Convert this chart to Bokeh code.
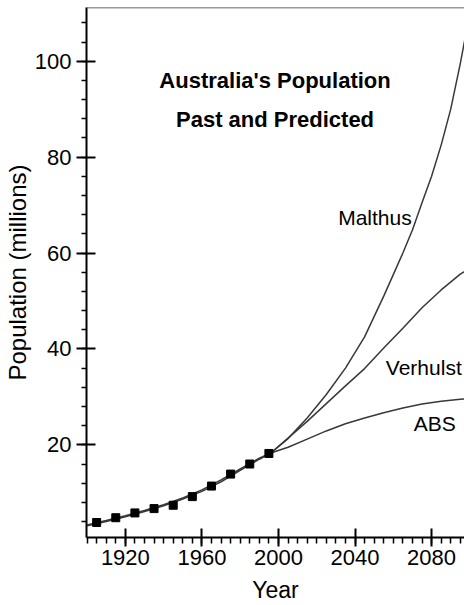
from bokeh.plotting import figure
from bokeh.models import Range1d, SingleIntervalTicker, Span, Label
from bokeh.embed import file_html
from bokeh.resources import INLINE

# Census data (millions)
census_year = [1905, 1915, 1925, 1935, 1945, 1955, 1965, 1975, 1985, 1995]
census_pop = [3.8, 4.8, 5.8, 6.7, 7.4, 9.2, 11.4, 13.9, 16.0, 18.2]

# Malthus model
malthus_year = [1900, 1910, 1920, 1930, 1940, 1950, 1960, 1970, 1980, 1990, 1996,
                2005, 2015, 2025, 2035, 2045, 2055, 2060, 2065, 2070, 2075, 2080,
                2085, 2090, 2095, 2100]
malthus_pop = [3.1, 4.0, 5.0, 6.1, 7.3, 8.7, 10.3, 12.3, 14.7, 17.0, 18.3,
               21.3, 25.6, 30.5, 36.0, 42.5, 51.0, 55.5, 60.0, 64.8, 70.5, 76.0,
               82.5, 90.0, 99.5, 110.0]

# Verhulst (logistic) model
verhulst_year = [1900, 1910, 1920, 1930, 1940, 1950, 1960, 1970, 1980, 1990, 1996,
                 2005, 2015, 2025, 2035, 2045, 2055, 2065, 2075, 2085, 2095, 2100]
verhulst_pop = [3.3, 4.2, 5.2, 6.3, 7.5, 8.9, 10.6, 12.7, 15.0, 17.2, 18.3,
                21.4, 24.9, 28.6, 32.3, 35.9, 40.2, 44.3, 48.6, 52.3, 55.6, 56.8]

# ABS projection
abs_year = [1996, 2005, 2015, 2025, 2035, 2045, 2055, 2065, 2075, 2085, 2095, 2100]
abs_pop = [18.3, 19.5, 21.2, 22.9, 24.4, 25.6, 26.7, 27.7, 28.5, 29.1, 29.5, 29.7]

title_lines = ["Australia's Population", "Past and Predicted"]
x_label = "Year"
y_label = "Population (millions)"

FONT = "Liberation Sans"
LINE_C = "#383838"

p = figure(width=464, height=605, output_backend="svg", toolbar_location=None,
           x_range=Range1d(1899.7, 2097.2), y_range=Range1d(0.675, 111.2),
           min_border_left=85, min_border_right=0, min_border_top=7, min_border_bottom=66)
p.outline_line_color = None
p.grid.visible = False
p.background_fill_color = "white"
p.border_fill_color = "white"

p.line(malthus_year, malthus_pop, line_color=LINE_C, line_width=1.5)
p.line(verhulst_year, verhulst_pop, line_color=LINE_C, line_width=1.5)
p.line(abs_year, abs_pop, line_color=LINE_C, line_width=1.5)
p.scatter(census_year, census_pop, marker="square", size=8, color="black")

p.xaxis.ticker = SingleIntervalTicker(interval=40, num_minor_ticks=8)
p.yaxis.ticker = SingleIntervalTicker(interval=20, num_minor_ticks=5)

for ax in (p.xaxis[0], p.yaxis[0]):
    ax.axis_line_width = 2
    ax.axis_line_color = "black"
    ax.major_tick_line_width = 2
    ax.major_tick_line_color = "black"
    ax.minor_tick_line_width = 1.5
    ax.minor_tick_line_color = "black"
    ax.minor_tick_in = 0
    ax.major_label_text_font = FONT
    ax.major_label_text_font_size = "22px"
    ax.major_label_text_color = "black"
    ax.axis_label_text_font = FONT
    ax.axis_label_text_font_style = "normal"
    ax.axis_label_text_color = "black"

p.xaxis.axis_label_text_font_size = "23px"
p.yaxis.axis_label_text_font_size = "24px"
p.xaxis.major_tick_in = 9
p.xaxis.major_tick_out = 9
p.xaxis.minor_tick_out = 6
p.xaxis.major_label_standoff = 3
p.xaxis.axis_label_standoff = 9
p.yaxis.major_tick_in = 9
p.yaxis.major_tick_out = 10
p.yaxis.minor_tick_out = 5
p.yaxis.major_label_standoff = 5
p.yaxis.axis_label_standoff = 1
p.xaxis.axis_label = x_label
p.yaxis.axis_label = y_label

p.add_layout(Span(location=111.2, dimension="width", line_color="#333333", line_width=1.5))

p.add_layout(Label(x=1998.2, y=96.05, text=title_lines[0], text_align="center",
                   text_baseline="alphabetic", text_font=FONT, text_font_size="22px",
                   text_font_style="bold", text_color="black"))
p.add_layout(Label(x=1998.2, y=87.9, text=title_lines[1], text_align="center",
                   text_baseline="alphabetic", text_font=FONT, text_font_size="22px",
                   text_font_style="bold", text_color="black"))

p.add_layout(Label(x=2069.6, y=67.4, text="Malthus", text_align="right",
                   text_baseline="alphabetic", text_font=FONT, text_font_size="21px",
                   text_color="black"))
p.add_layout(Label(x=2056.1, y=36.1, text="Verhulst", text_align="left",
                   text_baseline="alphabetic", text_font=FONT, text_font_size="21px",
                   text_color="black"))
p.add_layout(Label(x=2070.7, y=24.4, text="ABS", text_align="left",
                   text_baseline="alphabetic", text_font=FONT, text_font_size="21px",
                   text_color="black"))

open("out.html", "w").write(file_html(p, INLINE))
